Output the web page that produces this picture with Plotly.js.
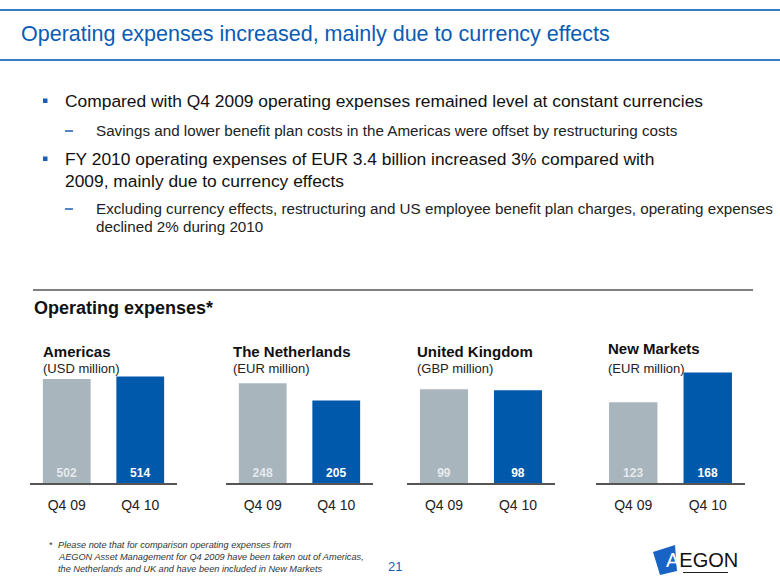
<!DOCTYPE html>
<html>
<head>
<meta charset="utf-8">
<script src="https://cdn.plot.ly/plotly-3.0.1.min.js"></script>
<style>html,body{margin:0;padding:0;background:#fff;}#chart{width:780px;height:585px;}</style>
</head>
<body>
<div id="chart"></div>
<script>
// ---- data ----
const periods = ["Q4 09", "Q4 10"];
const regions = ["Americas", "The Netherlands", "United Kingdom", "New Markets"];
const units = ["(USD million)", "(EUR million)", "(GBP million)", "(EUR million)"];
const americas = [502, 514];
const netherlands = [248, 205];
const unitedKingdom = [99, 98];
const newMarkets = [123, 168];
const seriesValues = [americas, netherlands, unitedKingdom, newMarkets];

const pageTitle = "Operating expenses increased, mainly due to currency effects";
const bullet1 = "Compared with Q4 2009 operating expenses remained level at constant currencies";
const sub1 = "Savings and lower benefit plan costs in the Americas were offset by restructuring costs";
const bullet2a = "FY 2010 operating expenses of EUR 3.4 billion increased 3% compared with";
const bullet2b = "2009, mainly due to currency effects";
const sub2a = "Excluding currency effects, restructuring and US employee benefit plan charges, operating expenses";
const sub2b = "declined 2% during 2010";
const sectionTitle = "Operating expenses*";
const footnote = ["Please note that for comparison operating expenses from",
  "AEGON Asset Management for Q4 2009 have been taken out of Americas,",
  "the Netherlands and UK and have been included in New Markets"];
const pageNumber = "21";

// ---- layout helpers ----
const W = 780, H = 585;
const px = x => x / W;
const py = y => 1 - y / H;
const FONT = "Liberation Sans, Arial, sans-serif";
const BLUE = "#0059ab", GREY = "#a8b5bd", TITLEBLUE = "#0b5cb5";

const xDomains = [[30,177],[226,373],[407,555],[596,745]];
const yRanges = [676, 348, 148, 213];
const titlePos = [[41,351,368],[231,351,368],[415,351,368],[606,348,368]];

const traces = [];
const layout = {
  width: W, height: H, margin: {l:0,r:0,t:0,b:0},
  paper_bgcolor: "#fff", plot_bgcolor: "rgba(0,0,0,0)",
  showlegend: false, font: {family: FONT, color: "#222"},
  shapes: [], annotations: []
};

seriesValues.forEach((vals, i) => {
  const k = i === 0 ? "" : String(i + 1);
  traces.push({
    type: "bar", x: periods, y: vals, xaxis: "x" + k, yaxis: "y" + k,
    width: 0.65,
    marker: {color: [GREY, BLUE], line: {width: 0}},
    text: vals.map(v => "<b>" + v + "</b>"),
    textposition: "inside", insidetextanchor: "start", textangle: 0,
    constraintext: "none",
    textfont: {family: FONT, size: 12, color: ["#e6eaee", "#ffffff"]},
    hoverinfo: "skip"
  });
  layout["xaxis" + k] = {
    domain: [px(xDomains[i][0]), px(xDomains[i][1])], anchor: "y" + k,
    type: "category", range: [-0.5, 1.5], showgrid: false, zeroline: false,
    showline: true, linecolor: "#555", linewidth: 2, ticks: "", ticklabelstandoff: 8,
    tickfont: {family: FONT, size: 14, color: "#222"}, fixedrange: true
  };
  layout["yaxis" + k] = {
    domain: [py(483), py(343)], anchor: "x" + k, range: [0, yRanges[i]],
    visible: false, fixedrange: true
  };
  layout.annotations.push({xref:"paper", yref:"paper", x: px(titlePos[i][0]), y: py(titlePos[i][1]),
    xanchor:"left", yanchor:"middle", showarrow:false, text:"<b>"+regions[i]+"</b>",
    font:{family:FONT, size:15, color:"#111"}});
  layout.annotations.push({xref:"paper", yref:"paper", x: px(titlePos[i][0]), y: py(titlePos[i][2]),
    xanchor:"left", yanchor:"middle", showarrow:false, text:units[i],
    font:{family:FONT, size:13, color:"#222"}});
});

// frame lines
layout.shapes.push({type:"line", xref:"paper", yref:"paper", x0:0, x1:1, y0:py(10), y1:py(10), line:{color:"#3a7cc4", width:2}});
layout.shapes.push({type:"line", xref:"paper", yref:"paper", x0:0, x1:1, y0:py(60), y1:py(60), line:{color:"#3a7cc4", width:2}});
layout.shapes.push({type:"line", xref:"paper", yref:"paper", x0:px(33), x1:px(753), y0:py(290), y1:py(290), line:{color:"#555", width:1.5}});
// bullets
[101, 159].forEach(y => layout.shapes.push({type:"rect", xref:"paper", yref:"paper",
  x0:px(43), x1:px(47.5), y0:py(y-2.5), y1:py(y+2), fillcolor:"#1a5fb4", line:{width:0}}));
[131, 209].forEach(y => layout.shapes.push({type:"line", xref:"paper", yref:"paper",
  x0:px(65), x1:px(73), y0:py(y), y1:py(y), line:{color:"#1a5fb4", width:1.5}}));

function txt(x, y, s, size, color, extra) {
  layout.annotations.push(Object.assign({xref:"paper", yref:"paper", x:px(x), y:py(y),
    xanchor:"left", yanchor:"middle", showarrow:false, text:s,
    font:{family:FONT, size:size, color:color}}, extra || {}));
}
txt(19, 34, pageTitle, 21.5, TITLEBLUE);
txt(63, 101, bullet1, 17.4, "#111");
txt(94, 130, sub1, 15.2, "#222");
txt(63, 159, bullet2a, 17.4, "#111");
txt(63, 181, bullet2b, 17.4, "#111");
txt(94, 208, sub2a, 15.2, "#222");
txt(94, 227, sub2b, 15.2, "#222");
txt(32, 308, "<b>" + sectionTitle + "</b>", 18, "#111");
txt(47, 545, "*", 9.2, "#333");
footnote.forEach((line, j) => txt(56, 545 + 12 * j, "<i>" + line + "</i>", 9.2, "#333"));
txt(386, 566, pageNumber, 13, "#1a5fb4");

// AEGON logo
layout.shapes.push({type:"path", xref:"paper", yref:"paper",
  path: "M " + px(653) + " " + py(552) + " L " + px(675) + " " + py(545) + " L " + px(677) + " " + py(571) +
        " L " + px(660) + " " + py(575) + " Z", fillcolor:"#1a63c6", line:{width:0}});
layout.shapes.push({type:"line", xref:"paper", yref:"paper", x0:px(683), x1:px(728), y0:py(572.5), y1:py(572.5), line:{color:"#222", width:1.2}});
layout.annotations.push({xref:"paper", yref:"paper", x:px(664), y:py(560), xanchor:"left", yanchor:"middle",
  showarrow:false, text:"A<span style='color:#111'>EGON</span>", font:{family:FONT, size:20, color:"#ffffff"}});

Plotly.newPlot("chart", traces, layout, {displayModeBar:false, staticPlot:true});
</script>
</body>
</html>
